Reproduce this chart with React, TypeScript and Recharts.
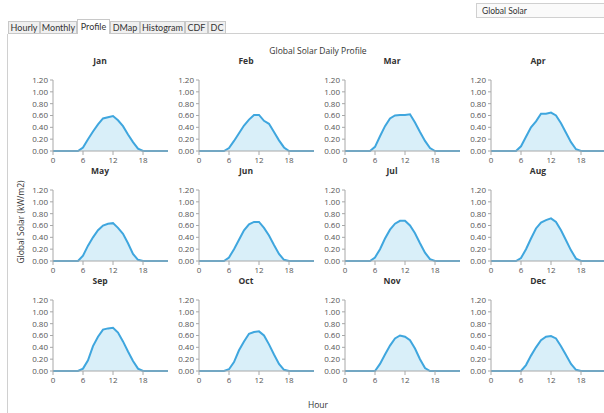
import React from "react";
import { AreaChart, Area, XAxis, YAxis } from "recharts";

const HOURS = [0, 1, 2, 3, 4, 5, 6, 7, 8, 9, 10, 11, 12, 13, 14, 15, 16, 17, 18, 19, 20, 21, 22, 23];
const X_TICKS = [0, 6, 12, 18];
const Y_TICKS = [0, 0.2, 0.4, 0.6, 0.8, 1.0, 1.2];
const MONTHS = ["Jan", "Feb", "Mar", "Apr", "May", "Jun", "Jul", "Aug", "Sep", "Oct", "Nov", "Dec"];
const TABS = ["Hourly", "Monthly", "Profile", "DMap", "Histogram", "CDF", "DC"];

const JAN = [0, 0, 0, 0, 0, 0, 0.06, 0.2, 0.33, 0.45, 0.55, 0.57, 0.59, 0.52, 0.42, 0.28, 0.15, 0.04, 0, 0, 0, 0, 0, 0];
const FEB = [0, 0, 0, 0, 0, 0, 0.05, 0.17, 0.3, 0.43, 0.53, 0.61, 0.61, 0.51, 0.46, 0.32, 0.18, 0.06, 0, 0, 0, 0, 0, 0];
const MAR = [0, 0, 0, 0, 0, 0, 0.07, 0.25, 0.42, 0.55, 0.6, 0.61, 0.61, 0.62, 0.48, 0.32, 0.17, 0.05, 0, 0, 0, 0, 0, 0];
const APR = [0, 0, 0, 0, 0, 0, 0.08, 0.24, 0.4, 0.5, 0.63, 0.63, 0.65, 0.6, 0.47, 0.31, 0.15, 0.03, 0, 0, 0, 0, 0, 0];
const MAY = [0, 0, 0, 0, 0, 0, 0.09, 0.26, 0.4, 0.52, 0.6, 0.63, 0.64, 0.56, 0.46, 0.3, 0.12, 0.02, 0, 0, 0, 0, 0, 0];
const JUN = [0, 0, 0, 0, 0, 0, 0.06, 0.2, 0.36, 0.52, 0.62, 0.66, 0.66, 0.56, 0.43, 0.27, 0.12, 0.02, 0, 0, 0, 0, 0, 0];
const JUL = [0, 0, 0, 0, 0, 0, 0.06, 0.2, 0.38, 0.53, 0.63, 0.68, 0.68, 0.6, 0.47, 0.3, 0.14, 0.03, 0, 0, 0, 0, 0, 0];
const AUG = [0, 0, 0, 0, 0, 0, 0.05, 0.2, 0.38, 0.55, 0.65, 0.69, 0.72, 0.66, 0.52, 0.35, 0.18, 0.04, 0, 0, 0, 0, 0, 0];
const SEP = [0, 0, 0, 0, 0, 0, 0.04, 0.18, 0.42, 0.58, 0.7, 0.72, 0.73, 0.65, 0.5, 0.33, 0.17, 0.04, 0, 0, 0, 0, 0, 0];
const OCT = [0, 0, 0, 0, 0, 0, 0.03, 0.15, 0.35, 0.5, 0.63, 0.66, 0.67, 0.6, 0.45, 0.28, 0.12, 0.02, 0, 0, 0, 0, 0, 0];
const NOV = [0, 0, 0, 0, 0, 0, 0, 0.12, 0.28, 0.43, 0.55, 0.6, 0.58, 0.52, 0.38, 0.2, 0.05, 0, 0, 0, 0, 0, 0, 0];
const DEC = [0, 0, 0, 0, 0, 0, 0, 0.1, 0.26, 0.4, 0.52, 0.58, 0.59, 0.55, 0.42, 0.27, 0.12, 0.02, 0, 0, 0, 0, 0, 0];

const SERIES = [JAN, FEB, MAR, APR, MAY, JUN, JUL, AUG, SEP, OCT, NOV, DEC];

const FONT = "'Open Sans', 'Noto Sans', sans-serif";
const NARROW = "Lato, 'Open Sans', sans-serif";
const AXIS = "#a8a8a8";
const TICK = { fontSize: 8, fill: "#555", fontFamily: FONT };

function Panel({ title, values, left, top }: { title: string; values: number[]; left: number; top: number }) {
  const data = HOURS.map((h, i) => ({ h, v: values[i] }));
  return (
    <div style={{ position: "absolute", left, top: top - 20, width: 150 }}>
      <div
        style={{
          position: "absolute",
          left: 0,
          top: 0,
          width: 158,
          textAlign: "center",
          fontSize: 8.5,
          fontWeight: 700,
          color: "#333",
          fontFamily: FONT,
        }}
      >
        {title}
      </div>
      <div style={{ position: "absolute", left: 0, top: 20 }}>
        <AreaChart width={150} height={96} data={data} margin={{ top: 5, right: 3, left: 0, bottom: 0 }}>
          <XAxis
            dataKey="h"
            type="number"
            domain={[0, 23]}
            ticks={X_TICKS}
            height={20}
            tickSize={4}
            tick={TICK}
            stroke={AXIS}
            interval={0}
          />
          <YAxis
            domain={[0, 1.2]}
            ticks={Y_TICKS}
            width={32}
            tickSize={3}
            tick={TICK}
            stroke={AXIS}
            interval={0}
            tickFormatter={(v: number) => v.toFixed(2)}
          />
          <Area
            type="linear"
            dataKey="v"
            stroke="#3fa6de"
            strokeWidth={2}
            fill="#d9eff9"
            fillOpacity={1}
            dot={false}
            activeDot={false}
            isAnimationActive={false}
          />
        </AreaChart>
      </div>
    </div>
  );
}

export default function App() {
  const tabX = [8, 40, 77, 110, 140, 185, 208, 226];
  return (
    <div
      style={{
        position: "absolute",
        left: 0,
        top: 0,
        width: 604,
        height: 413,
        background: "#fff",
        fontFamily: FONT,
        overflow: "hidden",
      }}
    >
      {/* dropdown */}
      <div
        style={{
          position: "absolute",
          left: 476,
          top: 3,
          width: 140,
          height: 15,
          border: "1px solid #d0d0d0",
          background: "#fafafa",
          fontSize: 8.5,
          fontFamily: NARROW,
          color: "#333",
          lineHeight: "15px",
          paddingLeft: 5,
          boxSizing: "border-box",
        }}
      >
        Global Solar
      </div>
      {/* tab strip line */}
      <div style={{ position: "absolute", left: 226, top: 33, width: 378, height: 1, background: "#d0d0d0" }} />
      {TABS.map((t, i) => {
        const sel = t === "Profile";
        return (
          <div
            key={t}
            style={{
              position: "absolute",
              left: tabX[i],
              top: sel ? 19 : 21,
              width: tabX[i + 1] - tabX[i],
              height: sel ? 15 : 13,
              border: "1px solid #c8c8c8",
              borderBottom: sel ? "none" : "1px solid #c8c8c8",
              background: sel ? "#fff" : "#f0f0f0",
              boxSizing: "border-box",
              fontSize: 9,
              fontFamily: NARROW,
              color: "#333",
              textAlign: "center",
              lineHeight: sel ? "14px" : "11px",
              whiteSpace: "nowrap",
              zIndex: sel ? 2 : 1,
            }}
          >
            {t}
          </div>
        );
      })}
      {/* panel border */}
      <div style={{ position: "absolute", left: 7, top: 34, width: 1, height: 379, background: "#d0d0d0" }} />

      <div
        style={{
          position: "absolute",
          left: 218,
          top: 45,
          width: 200,
          textAlign: "center",
          fontSize: 8.5,
          color: "#333",
        }}
      >
        Global Solar Daily Profile
      </div>

      {MONTHS.map((m, i) => {
        const col = i % 4;
        const row = Math.floor(i / 4);
        return <Panel key={m} title={m} values={SERIES[i]} left={21 + col * 146} top={75 + row * 110} />;
      })}

      <div
        style={{
          position: "absolute",
          left: 20,
          top: 222,
          transform: "translate(-50%, -50%) rotate(-90deg)",
          whiteSpace: "nowrap",
          fontSize: 8.5,
          color: "#333",
        }}
      >
        Global Solar (kW/m2)
      </div>
      <div
        style={{
          position: "absolute",
          left: 268,
          top: 399,
          width: 100,
          textAlign: "center",
          fontSize: 8.5,
          color: "#333",
        }}
      >
        Hour
      </div>
    </div>
  );
}
